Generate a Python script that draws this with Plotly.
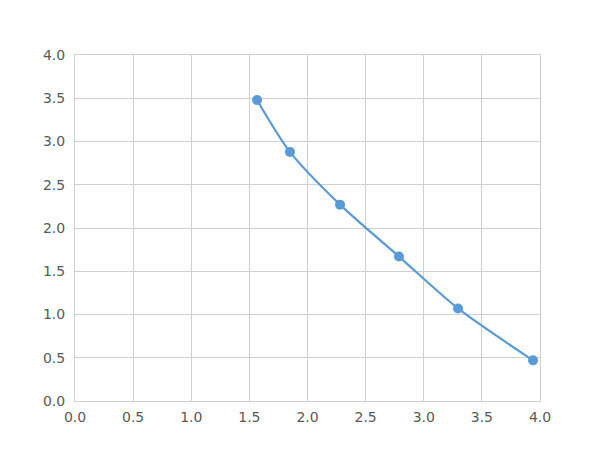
import plotly.graph_objects as go

x_vals = [1.566, 1.849, 2.28, 2.787, 3.295, 3.94]
y_vals = [3.48, 2.88, 2.27, 1.67, 1.07, 0.47]
tick_vals = [0, 0.5, 1, 1.5, 2, 2.5, 3, 3.5, 4]
tick_text = ["0.0", "0.5", "1.0", "1.5", "2.0", "2.5", "3.0", "3.5", "4.0"]

fig = go.Figure()
fig.add_trace(go.Scatter(
    x=x_vals, y=y_vals, mode="lines+markers",
    line=dict(color="#5b9bd5", width=2.2, shape="spline", smoothing=0.8),
    marker=dict(color="#5b9bd5", size=10),
    showlegend=False,
))

axis_common = dict(
    range=[0, 4], tickvals=tick_vals, ticktext=tick_text,
    showgrid=True, gridcolor="#d0d0d0", gridwidth=1,
    zeroline=False, showline=True, linecolor="#d0d0d0", linewidth=1,
    mirror=True, ticks="", tickfont=dict(family="DejaVu Sans", size=14, color="#595959"),
)

fig.update_layout(
    width=600, height=450,
    margin=dict(l=67, r=68, t=47, b=57),
    paper_bgcolor="white", plot_bgcolor="white",
    xaxis=dict(axis_common, ticklabelstandoff=3),
    yaxis=dict(axis_common, ticklabelstandoff=6),
)

fig.write_html("out.html")
